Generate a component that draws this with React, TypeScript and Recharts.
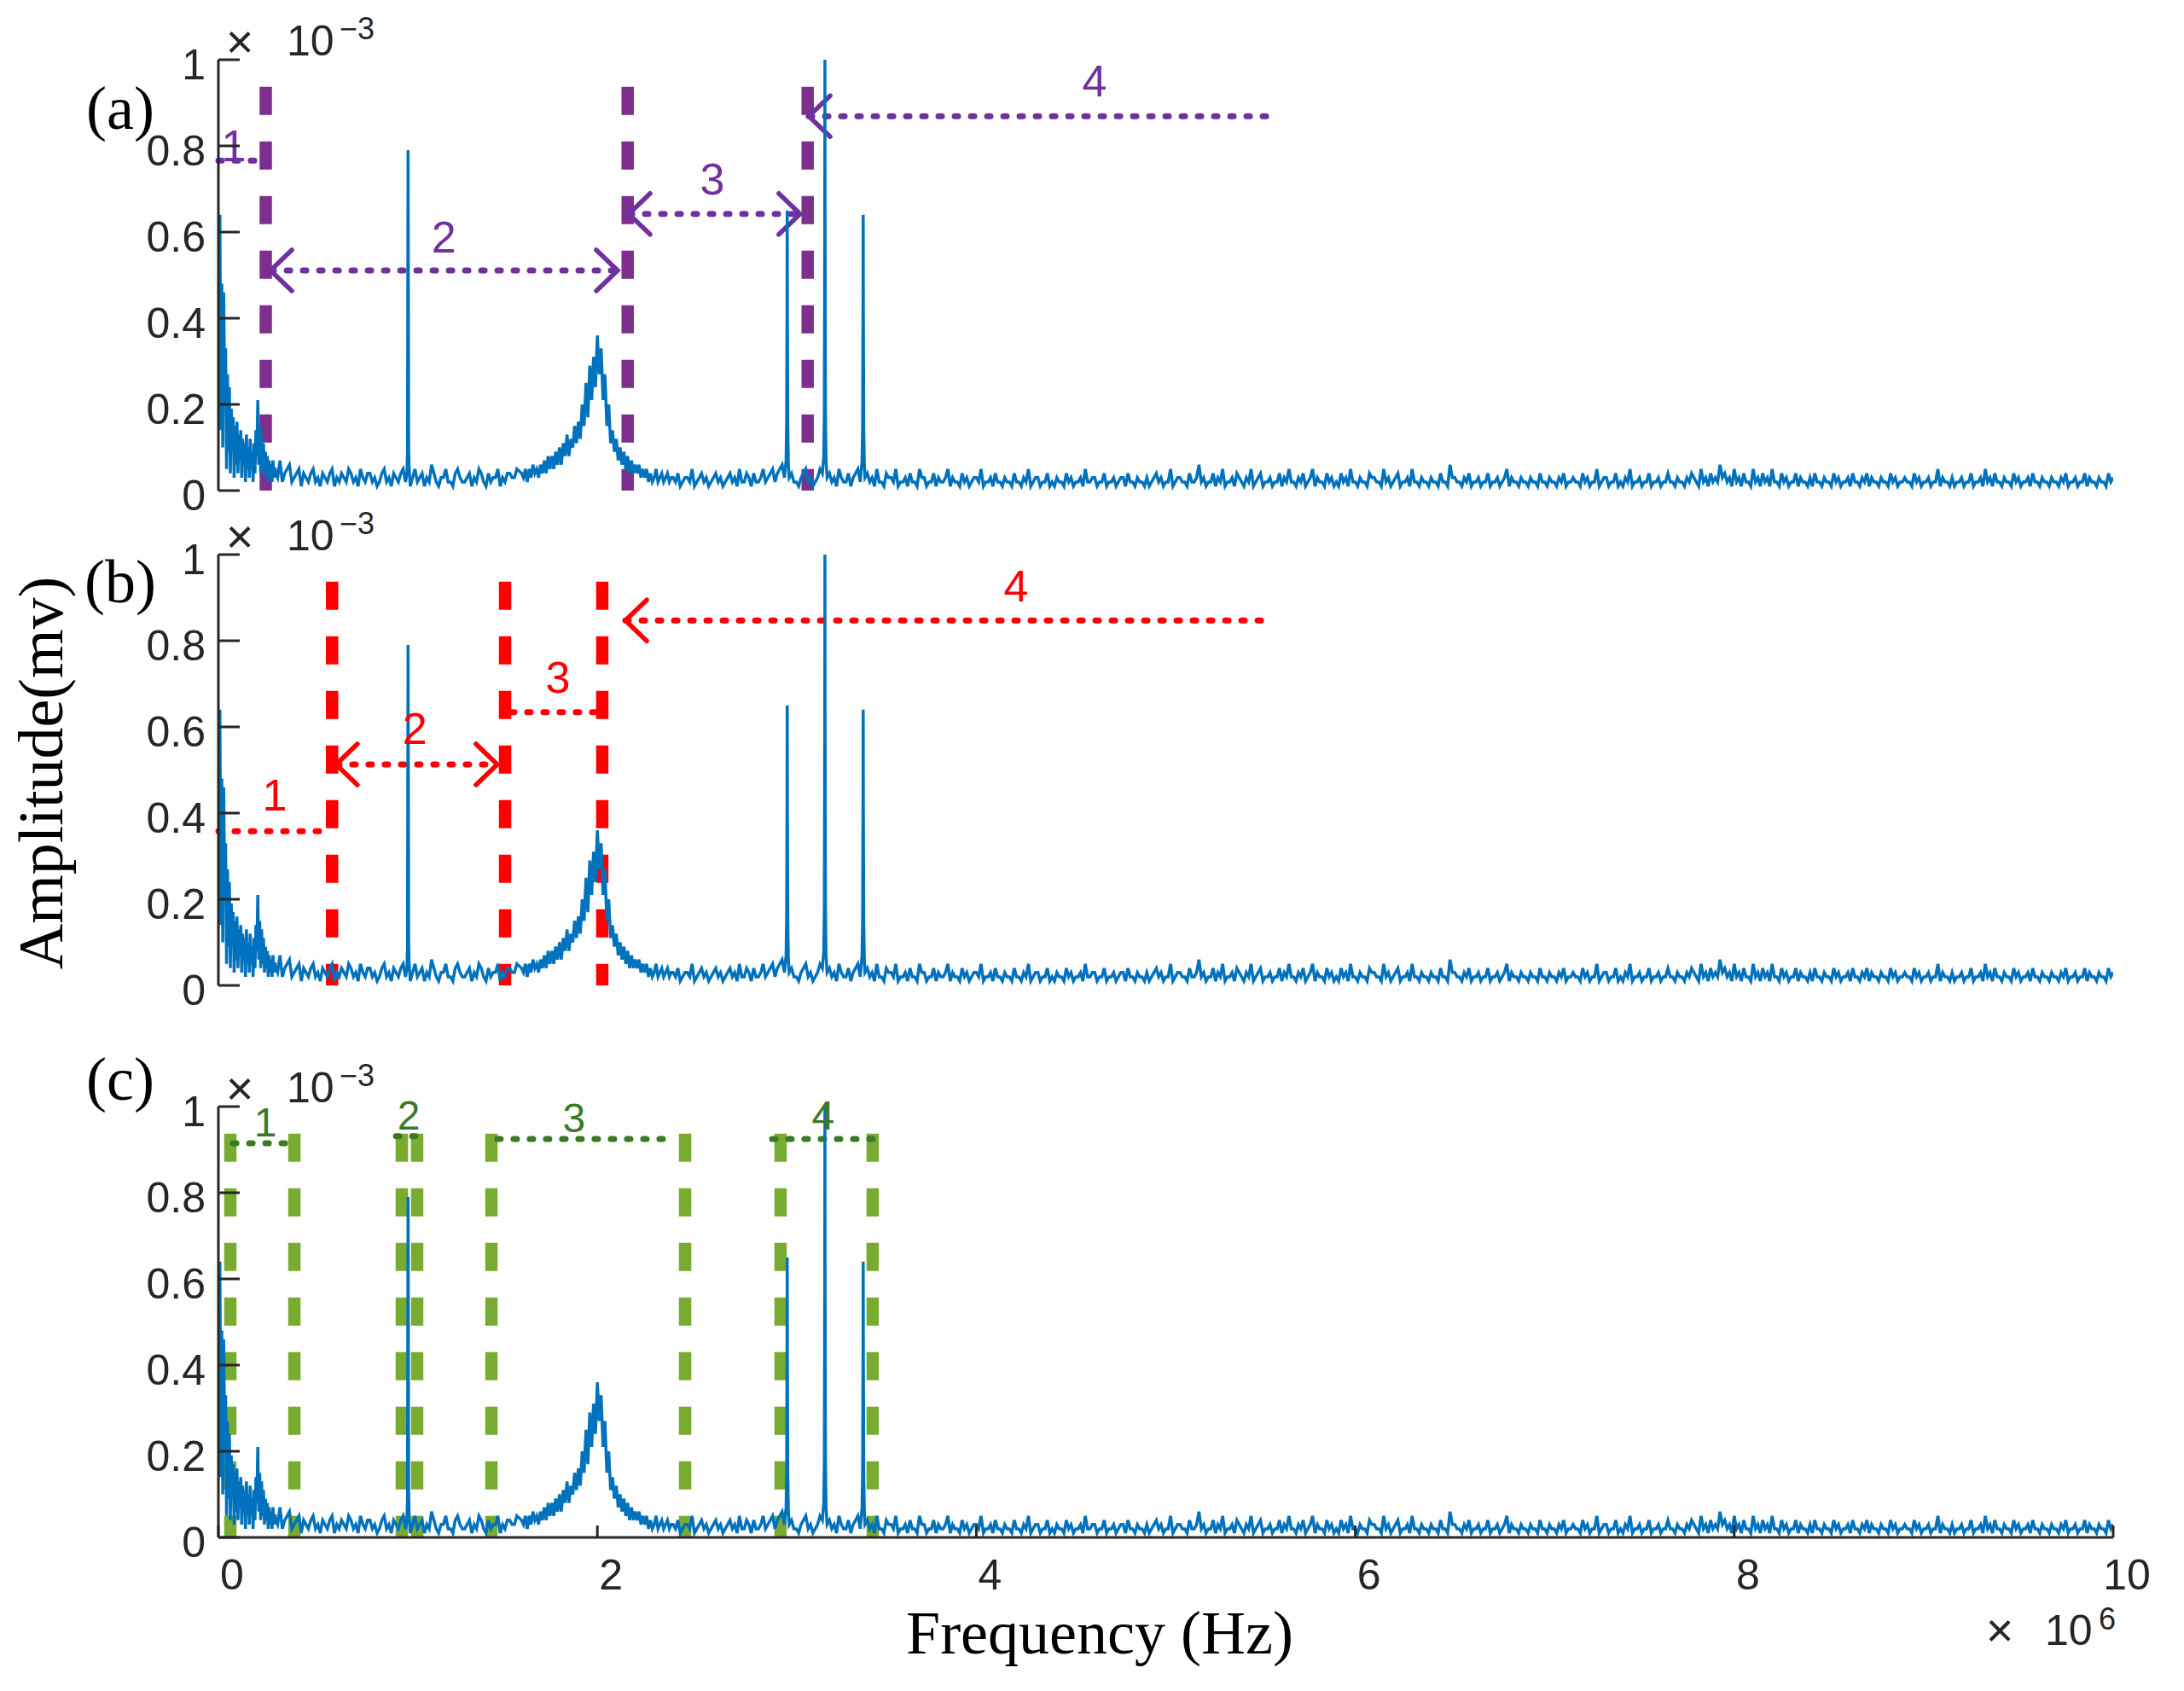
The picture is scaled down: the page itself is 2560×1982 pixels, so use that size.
import React from 'react';
import { LineChart, Line, XAxis, YAxis, ReferenceLine, ReferenceDot } from 'recharts';

// ---------------- data (frequency in MHz, amplitude in 1e-3 mV) ----------------
// band 0.008 .. 0.303 MHz, bin 0.005
const lowBandAmp = [
  0.64, 0.14, 0.48, 0.10, 0.46, 0.22, 0.33, 0.05, 0.27, 0.09,
  0.24, 0.04, 0.19, 0.11, 0.17, 0.03, 0.15, 0.06, 0.16, 0.04,
  0.13, 0.07, 0.14, 0.03, 0.12, 0.06, 0.11, 0.02, 0.13, 0.05,
  0.10, 0.03, 0.12, 0.05, 0.09, 0.02, 0.11, 0.04, 0.14, 0.08,
  0.21, 0.06, 0.15, 0.04, 0.13, 0.05, 0.11, 0.03, 0.09, 0.04,
  0.08, 0.02, 0.07, 0.03, 0.06, 0.02, 0.07, 0.03, 0.05, 0.04,
];
// band 0.3 .. 1.575 MHz, bin 0.025
const midBandAmp = [
  0.05, 0.07, 0.04, 0.06, 0.03, 0.05, 0.04, 0.02, 0.05, 0.03,
  0.04, 0.02, 0.05, 0.03, 0.04, 0.02, 0.04, 0.03, 0.05, 0.02,
  0.04, 0.03, 0.02, 0.05, 0.03, 0.04, 0.02, 0.05, 0.04, 0.03,
  0.02, 0.04, 0.03, 0.06, 0.02, 0.03, 0.05, 0.02, 0.04, 0.03,
  0.02, 0.04, 0.03, 0.05, 0.02, 0.04, 0.03, 0.05, 0.03, 0.04,
  0.03, 0.05,
];
// in-between bins 0.3125 .. 1.5625 MHz
const midBandFill = [
  0.03, 0.02, 0.05, 0.02, 0.04, 0.01, 0.03, 0.04, 0.02, 0.01,
  0.03, 0.04, 0.01, 0.02, 0.03, 0.05, 0.02, 0.01, 0.03, 0.04,
  0.02, 0.01, 0.04, 0.02, 0.01, 0.03, 0.04, 0.02, 0.01, 0.05,
  0.03, 0.01, 0.02, 0.04, 0.01, 0.03, 0.02, 0.01, 0.05, 0.02,
  0.03, 0.01, 0.02, 0.04, 0.01, 0.02, 0.03, 0.01, 0.02, 0.04,
  0.03,
];
// band 1.6 .. 2.39 MHz, bin 0.01 (broad resonance near 2 MHz)
const peakBandAmp = [
  0.04, 0.03, 0.05, 0.02, 0.05, 0.03, 0.06, 0.04, 0.05, 0.03,
  0.06, 0.04, 0.07, 0.04, 0.08, 0.05, 0.08, 0.05, 0.09, 0.06,
  0.10, 0.06, 0.11, 0.08, 0.13, 0.08, 0.12, 0.10, 0.15, 0.11,
  0.16, 0.12, 0.20, 0.15, 0.25, 0.17, 0.29, 0.21, 0.31, 0.24,
  0.36, 0.27, 0.33, 0.21, 0.27, 0.15, 0.20, 0.11, 0.14, 0.09,
  0.12, 0.07, 0.10, 0.06, 0.09, 0.05, 0.08, 0.04, 0.07, 0.04,
  0.06, 0.04, 0.06, 0.03, 0.05, 0.03, 0.05, 0.02, 0.04, 0.02,
  0.03, 0.05, 0.02, 0.03, 0.04, 0.02, 0.03, 0.04, 0.02, 0.03,
];
// band 2.4 .. 10 MHz, bin 0.025
const highBandAmp = [
  0.03, 0.04, 0.02, 0.03, 0.05, 0.02, 0.04, 0.03, 0.02, 0.04,
  0.03, 0.02, 0.04, 0.03, 0.05, 0.02, 0.03, 0.04, 0.02, 0.05,
  0.03, 0.05, 0.04, 0.06, 0.08, 0.04, 0.02, 0.03, 0.05, 0.03,
  0.02, 0.05, 0.09, 0.04, 0.03, 0.05, 0.02, 0.04, 0.03, 0.05,
  0.08, 0.04, 0.03, 0.05, 0.02, 0.04, 0.03, 0.05, 0.02, 0.03,
  0.04, 0.02, 0.05, 0.03, 0.02, 0.04, 0.03, 0.02, 0.05, 0.03,
  0.02, 0.04, 0.03, 0.02, 0.03, 0.05, 0.02, 0.03, 0.04, 0.02,
  0.03, 0.02, 0.04, 0.02, 0.03, 0.05, 0.02, 0.03, 0.02, 0.04,
  0.02, 0.03, 0.02, 0.04, 0.03, 0.02, 0.03, 0.05, 0.02, 0.03,
  0.02, 0.04, 0.02, 0.03, 0.02, 0.03, 0.04, 0.02, 0.03, 0.02,
  0.03, 0.02, 0.04, 0.03, 0.02, 0.05, 0.02, 0.03, 0.02, 0.04,
  0.02, 0.06, 0.03, 0.02, 0.04, 0.03, 0.05, 0.02, 0.03, 0.04,
  0.02, 0.03, 0.05, 0.02, 0.04, 0.02, 0.03, 0.02, 0.04, 0.03,
  0.05, 0.02, 0.03, 0.04, 0.02, 0.05, 0.03, 0.02, 0.04, 0.03,
  0.02, 0.04, 0.03, 0.05, 0.02, 0.03, 0.02, 0.04, 0.03, 0.02,
  0.05, 0.03, 0.02, 0.04, 0.02, 0.03, 0.05, 0.02, 0.03, 0.02,
  0.03, 0.02, 0.04, 0.02, 0.06, 0.03, 0.02, 0.03, 0.04, 0.02,
  0.03, 0.02, 0.04, 0.02, 0.03, 0.02, 0.05, 0.03, 0.02, 0.03,
  0.02, 0.03, 0.02, 0.04, 0.02, 0.03, 0.02, 0.03, 0.04, 0.02,
  0.03, 0.02, 0.04, 0.03, 0.02, 0.05, 0.02, 0.03, 0.02, 0.04,
  0.02, 0.03, 0.05, 0.02, 0.03, 0.02, 0.04, 0.02, 0.03, 0.02,
  0.04, 0.02, 0.03, 0.02, 0.03, 0.04, 0.02, 0.05, 0.03, 0.04,
  0.03, 0.06, 0.04, 0.03, 0.05, 0.03, 0.04, 0.02, 0.05, 0.03,
  0.04, 0.03, 0.05, 0.02, 0.04, 0.03, 0.02, 0.04, 0.03, 0.02,
  0.03, 0.04, 0.02, 0.03, 0.02, 0.04, 0.03, 0.02, 0.03, 0.04,
  0.02, 0.03, 0.04, 0.03, 0.02, 0.03, 0.02, 0.04, 0.03, 0.02,
  0.03, 0.02, 0.04, 0.03, 0.02, 0.03, 0.02, 0.05, 0.03, 0.02,
  0.03, 0.02, 0.03, 0.02, 0.04, 0.02, 0.03, 0.05, 0.03, 0.04,
  0.02, 0.03, 0.02, 0.04, 0.03, 0.02, 0.03, 0.04, 0.02, 0.03,
  0.02, 0.03, 0.02, 0.03, 0.04, 0.02, 0.03, 0.02, 0.04, 0.03,
  0.02, 0.03, 0.02, 0.04, 0.03,
];
// in-between bins 2.4125 .. 9.9875 MHz
const highBandFill = [
  0.02, 0.01, 0.03, 0.02, 0.01, 0.03, 0.02, 0.01, 0.03, 0.02,
  0.01, 0.03, 0.02, 0.01, 0.02, 0.04, 0.01, 0.02, 0.03, 0.02,
  0.04, 0.02, 0.05, 0.03, 0.03, 0.02, 0.01, 0.04, 0.02, 0.01,
  0.03, 0.04, 0.03, 0.02, 0.01, 0.03, 0.02, 0.01, 0.04, 0.02,
  0.03, 0.02, 0.01, 0.02, 0.01, 0.03, 0.02, 0.01, 0.02, 0.01,
  0.02, 0.01, 0.03, 0.01, 0.02, 0.01, 0.02, 0.03, 0.01, 0.02,
  0.01, 0.02, 0.01, 0.03, 0.02, 0.01, 0.02, 0.01, 0.02, 0.01,
  0.02, 0.01, 0.02, 0.01, 0.02, 0.01, 0.03, 0.01, 0.02, 0.01,
  0.01, 0.02, 0.01, 0.02, 0.01, 0.02, 0.01, 0.02, 0.03, 0.01,
  0.02, 0.01, 0.02, 0.01, 0.03, 0.01, 0.02, 0.01, 0.02, 0.01,
  0.01, 0.03, 0.02, 0.01, 0.02, 0.01, 0.03, 0.02, 0.01, 0.02,
  0.03, 0.02, 0.01, 0.02, 0.01, 0.02, 0.01, 0.02, 0.01, 0.03,
  0.01, 0.02, 0.01, 0.03, 0.01, 0.02, 0.01, 0.02, 0.01, 0.02,
  0.02, 0.01, 0.02, 0.01, 0.03, 0.01, 0.02, 0.01, 0.02, 0.01,
  0.01, 0.02, 0.01, 0.02, 0.01, 0.02, 0.01, 0.03, 0.02, 0.01,
  0.02, 0.01, 0.03, 0.01, 0.02, 0.01, 0.02, 0.01, 0.02, 0.01,
  0.02, 0.01, 0.02, 0.01, 0.03, 0.02, 0.01, 0.02, 0.01, 0.02,
  0.01, 0.02, 0.01, 0.02, 0.01, 0.03, 0.01, 0.02, 0.01, 0.02,
  0.01, 0.02, 0.01, 0.02, 0.01, 0.02, 0.01, 0.02, 0.01, 0.02,
  0.02, 0.01, 0.02, 0.01, 0.02, 0.01, 0.03, 0.01, 0.02, 0.01,
  0.01, 0.02, 0.01, 0.02, 0.01, 0.02, 0.01, 0.02, 0.01, 0.02,
  0.02, 0.01, 0.02, 0.01, 0.02, 0.03, 0.01, 0.02, 0.01, 0.02,
  0.02, 0.03, 0.02, 0.01, 0.02, 0.01, 0.02, 0.01, 0.02, 0.01,
  0.02, 0.01, 0.02, 0.01, 0.02, 0.01, 0.02, 0.01, 0.02, 0.01,
  0.01, 0.02, 0.01, 0.02, 0.01, 0.02, 0.01, 0.02, 0.01, 0.02,
  0.01, 0.02, 0.01, 0.02, 0.01, 0.02, 0.01, 0.02, 0.01, 0.02,
  0.02, 0.01, 0.02, 0.01, 0.02, 0.01, 0.02, 0.01, 0.02, 0.01,
  0.01, 0.02, 0.01, 0.02, 0.01, 0.02, 0.01, 0.02, 0.01, 0.02,
  0.01, 0.02, 0.01, 0.02, 0.01, 0.02, 0.01, 0.02, 0.01, 0.02,
  0.01, 0.02, 0.01, 0.02, 0.01, 0.02, 0.01, 0.02, 0.01, 0.02,
  0.01, 0.02, 0.01, 0.02,
];
// narrow spectral lines (1, 3.0, 3.2, 3.4 MHz)
const lineCentres = [1.001, 3.002, 3.201, 3.403];
const lineFreq = [
  0.995, 0.998, 1.0, 1.001, 1.002, 1.004, 1.007,
  2.996, 2.999, 3.001, 3.002, 3.003, 3.005, 3.008,
  3.195, 3.198, 3.2, 3.201, 3.202, 3.204, 3.207,
  3.397, 3.4, 3.402, 3.403, 3.404, 3.406, 3.409,
];
const lineAmp = [
  0.04, 0.09, 0.55, 0.79, 0.58, 0.10, 0.05,
  0.07, 0.16, 0.41, 0.65, 0.40, 0.15, 0.06,
  0.08, 0.18, 0.60, 1.0, 0.57, 0.17, 0.07,
  0.07, 0.15, 0.43, 0.64, 0.41, 0.14, 0.06,
];

const freqTicks = [0, 2, 4, 6, 8, 10];
const ampTicks = [0, 0.2, 0.4, 0.6, 0.8, 1];

// band boundaries (MHz) of each decomposition
const purpleBounds = [0.25, 2.16, 3.11];
const redBounds = [0.6, 1.513, 2.026];
const greenBounds = [0.063, 0.401, 0.968, 1.049, 1.441, 2.463, 2.967, 3.453];
const boundTop = 0.937;

// band spans: [x1, x2, y, leftHead, rightHead]
const purpleSpans = [
  [0, 0.26, 0.766, 0, 0],
  [0.275, 2.107, 0.511, 1, 1],
  [2.166, 3.07, 0.642, 1, 1],
  [3.116, 5.565, 0.869, 1, 0],
];
const redSpans = [
  [0, 0.554, 0.358, 0, 0],
  [0.621, 1.472, 0.513, 1, 1],
  [1.544, 1.986, 0.634, 0, 0],
  [2.148, 5.533, 0.847, 1, 0],
];
const greenSpans = [
  [0.077, 0.374, 0.915, 0, 0],
  [0.937, 1.04, 0.931, 0, 0],
  [1.472, 2.409, 0.925, 0, 0],
  [2.922, 3.471, 0.925, 0, 0],
];
// band numbers: [x, y]
const purpleNums = [[0.081, 0.8], [1.19, 0.588], [2.607, 0.723], [4.624, 0.95]];
const redNums = [[0.297, 0.442], [1.036, 0.596], [1.792, 0.715], [4.21, 0.927]];
const greenNums = [[0.248, 0.964], [1.004, 0.98], [1.877, 0.974], [3.192, 0.98]];
const numText = ['1', '2', '3', '4'];

// ---------------- layout ----------------
const W = 2560;
const H = 1982;
const PLOT_L = 256;
const PLOT_R = 2477;
const Y_AXIS_W = 100;
const X_AXIS_H = 60;
const AXIS = '#262626';
const SANS = "'Liberation Sans', Arial, Helvetica, sans-serif";
const SERIF = "'Liberation Serif', 'Times New Roman', Times, serif";

function buildSpectrum() {
  const pts: { f: number; a: number }[] = [];
  const addBand = (start: number, step: number, vals: number[]) =>
    vals.forEach((a, i) => pts.push({ f: +(start + step * i).toFixed(4), a }));
  addBand(0.008, 0.005, lowBandAmp);
  addBand(0.3, 0.025, midBandAmp);
  addBand(0.3125, 0.025, midBandFill);
  addBand(1.6, 0.01, peakBandAmp);
  addBand(2.4, 0.025, highBandAmp);
  addBand(2.4125, 0.025, highBandFill);
  const kept = pts.filter((p) => !lineCentres.some((c) => Math.abs(p.f - c) < 0.008));
  lineFreq.forEach((f, i) => kept.push({ f, a: lineAmp[i] }));
  kept.sort((p, q) => p.f - q.f);
  return kept;
}
const spectrum = buildSpectrum();

const fmtAmp = (v: number) => (v === 0 ? '0' : v === 1 ? '1' : String(+v.toFixed(1)));

const YTick = (props: any) => {
  const { x, y, payload } = props;
  const ax = x + 15;
  return (
    <g>
      <line x1={ax} x2={ax + 25} y1={y} y2={y} stroke={AXIS} strokeWidth={3} />
      <text x={x} y={y + 23} textAnchor="end" fontFamily={SANS} fontSize={50} fill={AXIS}>
        {fmtAmp(payload.value)}
      </text>
    </g>
  );
};

const XTick = (props: any) => {
  const { x, y, payload } = props;
  return (
    <g>
      <line x1={x} x2={x} y1={y} y2={y - 14} stroke={AXIS} strokeWidth={3} />
      <text x={x + 16} y={y + 61} textAnchor="middle" fontFamily={SANS} fontSize={50} fill={AXIS}>
        {String(payload.value)}
      </text>
    </g>
  );
};

const makeSpanShape = (color: string, left: boolean, right: boolean) => (p: any) => {
  const xa = Math.min(p.x1, p.x2);
  const xb = Math.max(p.x1, p.x2);
  const y = p.y1;
  return (
    <g>
      <line x1={xa} y1={y} x2={xb} y2={y} stroke={color} strokeWidth={7} strokeDasharray="4 15" strokeLinecap="round" />
      {left ? (
        <path d={`M${xa + 25},${y - 24} L${xa},${y} L${xa + 25},${y + 24}`} fill="none" stroke={color} strokeWidth={5.5} strokeLinecap="round" />
      ) : null}
      {right ? (
        <path d={`M${xb - 25},${y - 24} L${xb},${y} L${xb - 25},${y + 24}`} fill="none" stroke={color} strokeWidth={5.5} strokeLinecap="round" />
      ) : null}
    </g>
  );
};

const makeNumShape = (txt: string, color: string, size: number) => (p: any) => (
  <text x={p.cx} y={p.cy} textAnchor="middle" dominantBaseline="central" fontFamily={SANS} fontSize={size} fill={color}>
    {txt}
  </text>
);

type PanelCfg = {
  top: number;
  bottom: number;
  showX: boolean;
  bounds: number[];
  boundColor: string;
  spans: number[][];
  nums: number[][];
  markColor: string;
  numSize: number;
};

const panels: PanelCfg[] = [
  { top: 70, bottom: 575, showX: false, bounds: purpleBounds, boundColor: '#7E2F8E', spans: purpleSpans, nums: purpleNums, markColor: '#7030A0', numSize: 52 },
  { top: 650, bottom: 1155, showX: false, bounds: redBounds, boundColor: '#FF0000', spans: redSpans, nums: redNums, markColor: '#FF0000', numSize: 52 },
  { top: 1297, bottom: 1802, showX: true, bounds: greenBounds, boundColor: '#77AC30', spans: greenSpans, nums: greenNums, markColor: '#3B7A22', numSize: 48 },
];

function Panel({ cfg }: { cfg: PanelCfg }) {
  return (
    <div style={{ position: 'absolute', left: 0, top: 0 }}>
      <LineChart
        width={W}
        height={H}
        data={spectrum}
        margin={{ top: cfg.top, bottom: H - cfg.bottom - (cfg.showX ? X_AXIS_H : 0), left: PLOT_L - Y_AXIS_W, right: W - PLOT_R }}
      >
        <XAxis
          dataKey="f"
          type="number"
          domain={[0, 10]}
          ticks={freqTicks}
          allowDataOverflow
          interval={0}
          hide={!cfg.showX}
          height={cfg.showX ? X_AXIS_H : 0}
          axisLine={{ stroke: AXIS, strokeWidth: 3 }}
          tickLine={false}
          tickSize={0}
          tickMargin={0}
          tick={<XTick />}
        />
        <YAxis
          type="number"
          domain={[0, 1]}
          ticks={ampTicks}
          allowDataOverflow
          interval={0}
          width={Y_AXIS_W}
          axisLine={{ stroke: AXIS, strokeWidth: 3 }}
          tickLine={false}
          tickSize={0}
          tickMargin={15}
          tick={<YTick />}
        />
        {cfg.bounds.map((b, i) => (
          <ReferenceLine
            key={'b' + i}
            segment={[{ x: b, y: boundTop }, { x: b, y: 0 }]}
            stroke={cfg.boundColor}
            strokeWidth={14.5}
            strokeDasharray="33 31"
          />
        ))}
        {cfg.spans.map((s, i) => (
          <ReferenceLine
            key={'s' + i}
            segment={[{ x: s[0], y: s[2] }, { x: s[1], y: s[2] }]}
            stroke={cfg.markColor}
            shape={makeSpanShape(cfg.markColor, s[3] === 1, s[4] === 1)}
          />
        ))}
        {cfg.nums.map((n, i) => (
          <ReferenceDot key={'n' + i} x={n[0]} y={n[1]} r={0} shape={makeNumShape(numText[i], cfg.markColor, cfg.numSize)} />
        ))}
        <Line
          dataKey="a"
          type="linear"
          stroke="#0072BD"
          strokeWidth={3.5}
          dot={false}
          activeDot={false}
          isAnimationActive={false}
        />
      </LineChart>
    </div>
  );
}

function Exponent({ top }: { top: number }) {
  return (
    <g fill={AXIS} fontFamily={SANS}>
      <text x={281} y={top - 2} textAnchor="middle" fontSize={56}>×</text>
      <text x={336} y={top - 5} fontSize={50}>10</text>
      <text x={398} y={top - 24} fontSize={36}>−3</text>
    </g>
  );
}

export default function App() {
  return (
    <div style={{ position: 'absolute', left: 0, top: 0, width: W, height: H, background: '#ffffff', overflow: 'hidden' }}>
      {panels.map((p, i) => (
        <Panel key={i} cfg={p} />
      ))}
      <svg width={W} height={H} style={{ position: 'absolute', left: 0, top: 0, pointerEvents: 'none' }}>
        <g fontFamily={SERIF} fill="#000" fontSize={72} textAnchor="middle">
          <text x={141} y={151}>(a)</text>
          <text x={141} y={706}>(b)</text>
          <text x={141} y={1289}>(c)</text>
        </g>
        {panels.map((p, i) => (
          <Exponent key={i} top={p.top} />
        ))}
        <text transform="rotate(-90)" x={-906} y={73} textAnchor="middle" fontFamily={SERIF} fontSize={74} fill="#000">
          Amplitude(mv)
        </text>
        <text x={1289} y={1938} textAnchor="middle" fontFamily={SERIF} fontSize={72} fill="#000">
          Frequency (Hz)
        </text>
        <g fill={AXIS} fontFamily={SANS}>
          <text x={2344} y={1930} textAnchor="middle" fontSize={56}>×</text>
          <text x={2397} y={1928} fontSize={50}>10</text>
          <text x={2460} y={1910} fontSize={36}>6</text>
        </g>
      </svg>
    </div>
  );
}
